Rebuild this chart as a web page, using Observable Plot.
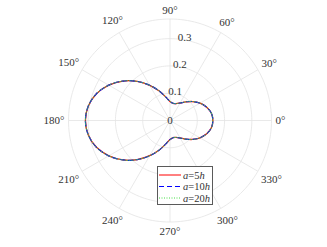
<!DOCTYPE html>
<html>
<head>
<meta charset="utf-8">
<script src="https://cdn.jsdelivr.net/npm/d3@7"></script>
<script src="https://cdn.jsdelivr.net/npm/@observablehq/plot@0.6"></script>
<style>
  html, body { margin: 0; padding: 0; background: #fff; }
  #wrap { position: relative; width: 327px; height: 247px; font-family: "Liberation Serif", "Times New Roman", Times, serif; }
  #wrap svg text { font-family: "Liberation Serif", "Times New Roman", Times, serif; }
  #legend { position: absolute; left: 157px; top: 166px; width: 54px; height: 37px;
    border: 1px solid #5a5a5a; background: #fff; font-size: 10px; color: #262626; }
  #legend svg { display: block; }
</style>
</head>
<body>
<div id="wrap"></div>
<script>
// angles (degrees)
const angles = [0,10,20,30,40,50,60,70,80,90,100,110,120,130,140,150,160,170,
                180,190,200,210,220,230,240,250,260,270,280,290,300,310,320,330,340,350];
// radial values for each series
const r5  = [0.157,0.154,0.143,0.127,0.108,0.089,0.074,0.066,0.064,0.070,0.087,0.115,0.149,0.187,0.225,0.259,0.287,0.304,
             0.310,0.304,0.287,0.259,0.225,0.187,0.149,0.115,0.087,0.070,0.064,0.066,0.074,0.089,0.108,0.127,0.143,0.154];
const r10 = r5.slice();
const r20 = r5.slice();
const seriesNames = ["a=5h", "a=10h", "a=20h"];
const seriesColors = ["#ff0000", "#0000ff", "#44dd44"];
const seriesDash = [null, "5,3", "1,1.5"];
const seriesWidth = [1.3, 1.2, 0.9];
const rTicks = [0.1, 0.2, 0.3];
const rTickLabels = ["0.1", "0.2", "0.3"];
const thetaTicks = [0,30,60,90,120,150,180,210,240,270,300,330];
const thetaLabels = ["0°","30°","60°","90°","120°","150°","180°","210°","240°","270°","300°","330°"];
const rMax = 0.372;
const fs = 11;

const rad = d => d * Math.PI / 180;
const toXY = (a, r) => ({x: r * Math.cos(rad(a)), y: r * Math.sin(rad(a))});

const series = [r5, r10, r20].map((vals, i) =>
  angles.map((a, j) => ({...toXY(a, vals[j]), s: seriesNames[i]})));

const circle = r => d3.range(0, 360, 2).map(a => toXY(a, r));
const rings = [...rTicks, rMax].map(r => circle(r));
const spokes = thetaTicks.map(a => ({x1: 0, y1: 0, x2: toXY(a, rMax).x, y2: toXY(a, rMax).y}));

const labPx = 101.5 / rMax; // approx pixels per unit
const thetaLab = thetaTicks.map((a, i) => {
  const c = Math.cos(rad(a)), s = Math.sin(rad(a));
  const t = thetaLabels[i];
  const halfW = ((t.length - 1) * 0.5 + 0.4) * fs / 2;
  const off = (4 + halfW * Math.abs(c) + 5 * Math.abs(s)) / labPx;
  return {x: (rMax + off) * c, y: (rMax + off) * s, t};
});
const rLab = [{r: 0, t: "0"}, ...rTicks.map((r, i) => ({r: r + 2.5 / labPx, t: rTickLabels[i]}))]
  .map(d => ({...toXY(80, d.r), t: d.t}));
rLab[0].x = 0; rLab[0].y = 0;

const grid = "#e3e3e3";
const ff = "'Liberation Serif', 'Times New Roman', serif";
const plot = Plot.plot({
  width: 327, height: 247,
  marginLeft: 68, marginRight: 56, marginTop: 18.5, marginBottom: 25.5,
  x: {domain: [-rMax, rMax], axis: null},
  y: {domain: [-rMax, rMax], axis: null},
  style: {fontFamily: ff, background: "#fff"},
  marks: [
    ...rings.map(pts => Plot.line(pts, {x: "x", y: "y", stroke: grid, strokeWidth: 0.8, curve: "linear-closed"})),
    Plot.link(spokes, {x1: "x1", y1: "y1", x2: "x2", y2: "y2", stroke: grid, strokeWidth: 0.8}),
    Plot.text(thetaLab, {x: "x", y: "y", text: "t", fontSize: fs, fill: "#333", fontFamily: ff}),
    Plot.text(rLab, {x: "x", y: "y", text: "t", fontSize: fs, fill: "#333", fontFamily: ff}),
    ...series.map((pts, i) => Plot.line(pts, {x: "x", y: "y", stroke: seriesColors[i], strokeWidth: seriesWidth[i],
        strokeDasharray: seriesDash[i], curve: "catmull-rom-closed"}))
  ]
});
const wrap = document.getElementById("wrap");
wrap.appendChild(plot);

// legend
const lg = document.createElement("div");
lg.id = "legend";
const rowsY = [8, 19.5, 31];
let svg = `<svg width="54" height="37">`;
seriesNames.forEach((n, i) => {
  const m = n.match(/a=(\d+)h/);
  svg += `<line x1="1" x2="23" y1="${rowsY[i]}" y2="${rowsY[i]}" stroke="${seriesColors[i]}" stroke-width="1"${seriesDash[i] ? ` stroke-dasharray="${seriesDash[i]}"` : ""}/>`;
  svg += `<text x="25" y="${rowsY[i] + 3.5}" fill="#333" font-size="10.5"><tspan font-style="italic">a</tspan>=${m[1]}<tspan font-style="italic">h</tspan></text>`;
});
svg += `</svg>`;
lg.innerHTML = svg;
wrap.appendChild(lg);
</script>
</body>
</html>
